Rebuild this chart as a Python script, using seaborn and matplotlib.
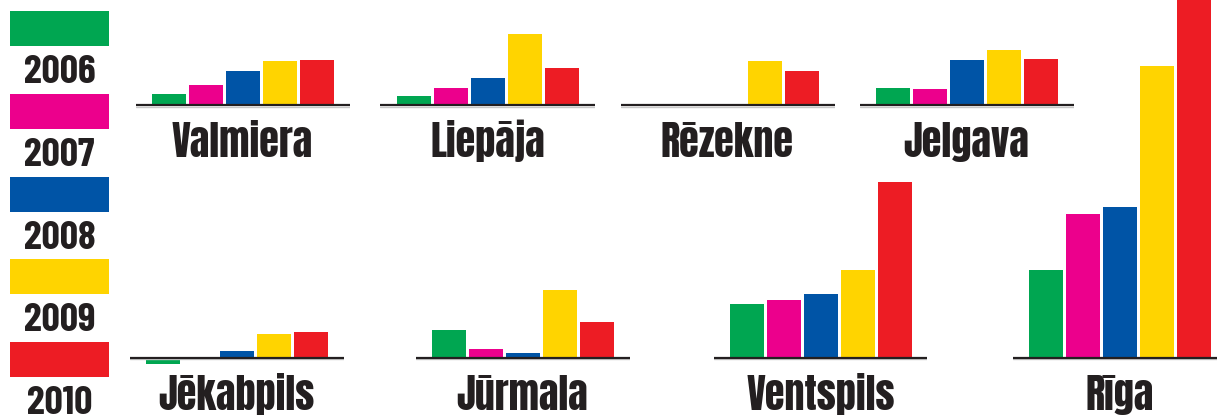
import matplotlib
matplotlib.use("Agg")
import matplotlib.pyplot as plt
from matplotlib.patches import Rectangle
from matplotlib import font_manager
from matplotlib.font_manager import FontProperties
from matplotlib.textpath import TextPath
import seaborn as sns
import pandas as pd

# ---------------- data ----------------
years = ["2006", "2007", "2008", "2009", "2010"]
colors = ["#00a651", "#ec008c", "#0054a6", "#ffd400", "#ed1c24"]

cities_top = ["Valmiera", "Liepāja", "Rēzekne", "Jelgava"]
cities_bottom = ["Jēkabpils", "Jūrmala", "Ventspils", "Rīga"]

valmiera = [11, 20, 34, 44, 45]
liepaja = [9, 17, 27, 71, 37]
rezekne = [0, 0, 0, 44, 34]
jelgava = [17, 16, 45, 55, 46]
jekabpils = [-6, 1, 7, 24, 26]
jurmala = [28, 9, 5, 68, 36]
ventspils = [54, 58, 64, 88, 176]
riga = [88, 144, 151, 292, 380]

values_top = [valmiera, liepaja, rezekne, jelgava]
values_bottom = [jekabpils, jurmala, ventspils, riga]

# ---------------- style ----------------
sns.set_style("white")
names = {f.name for f in font_manager.fontManager.ttflist}


def pick(cands):
    for c in cands:
        if c in names:
            return c
    return "DejaVu Sans"


CITY_FONT = pick(["Anton", "Oswald", "Bebas Neue", "Fjalla One", "Archivo Narrow", "Asap Condensed"])
YEAR_FONT = pick(["Barlow Condensed", "Asap Condensed", "Roboto Condensed", "Archivo Narrow"])
plt.rcParams["font.family"] = [CITY_FONT, "DejaVu Sans"]
DARK = "#231f20"

CITY_WEIGHT = "normal" if CITY_FONT in ("Anton", "Bebas Neue", "Fjalla One") else "bold"
YEAR_WEIGHT = "bold"


def size_for(font, weight, sample, target_px):
    fp = FontProperties(family=font, weight=weight)
    ext = TextPath((0, 0), sample, size=100, prop=fp).get_extents()
    ratio = ext.height / 100.0
    return target_px * 0.72 / ratio


CITY_SIZE = size_for(CITY_FONT, CITY_WEIGHT, "V", 34.5)
YEAR_SIZE = size_for(YEAR_FONT, YEAR_WEIGHT, "2", 28.5)

W, H = 1217, 415
fig = plt.figure(figsize=(W / 100, H / 100), dpi=100)


def px_axes(x0, ytop, w, h):
    """axes from pixel rect measured from the top-left corner"""
    return fig.add_axes([x0 / W, 1 - (ytop + h) / H, w / W, h / H])


AX_W = 214
XLIM = (-0.906, 4.878)


def panel(vals, green_left, ytop, baseline, ybot, label):
    x0 = green_left - 16.5
    ax = px_axes(x0, ytop, AX_W, ybot - ytop)
    df = pd.DataFrame({"year": years, "value": vals})
    sns.barplot(data=df, x="year", y="value", hue="year", palette=colors,
                order=years, hue_order=years, width=0.92, saturation=1,
                linewidth=0, legend=False, ax=ax)
    ax.set_xlim(*XLIM)
    ax.set_ylim(-(ybot - baseline), baseline - ytop)
    ax.axhline(-1.3, color="#c8c8c8", lw=1.0, zorder=4)
    ax.axhline(0, color=DARK, lw=1.6, zorder=5)
    ax.axis("off")
    cx = x0 + AX_W / 2
    fig.text(cx / W, 1 - (baseline + 51.5) / H, label, ha="center", va="baseline",
             fontsize=CITY_SIZE, fontweight=CITY_WEIGHT, family=[CITY_FONT, "DejaVu Sans"],
             color=DARK)


top_lefts = [152, 397, 637, 876]
bottom_lefts = [146, 432, 730, 1029]

for name, vals, gl in zip(cities_top, values_top, top_lefts):
    panel(vals, gl, 0, 105.5, 115, name)

for name, vals, gl in zip(cities_bottom, values_bottom, bottom_lefts):
    ytop = 0 if name == "Rīga" else 120
    panel(vals, gl, ytop, 358, 368, name)

# ---------------- legend ----------------
lax = px_axes(0, 0, 130, H)
lax.set_xlim(0, 130)
lax.set_ylim(H, 0)
lax.axis("off")
rect_tops = [11, 94, 177, 259, 342]
text_base = [83, 166, 249, 331, 414]
for yr, c, rt, tb in zip(years, colors, rect_tops, text_base):
    lax.add_patch(Rectangle((10, rt), 99, 35, facecolor=c, edgecolor="none"))
    lax.text(59.5, tb, yr, ha="center", va="baseline", fontsize=YEAR_SIZE,
             fontweight=YEAR_WEIGHT, family=[YEAR_FONT, "DejaVu Sans"], color=DARK)

fig.savefig("out.png", dpi=100)
